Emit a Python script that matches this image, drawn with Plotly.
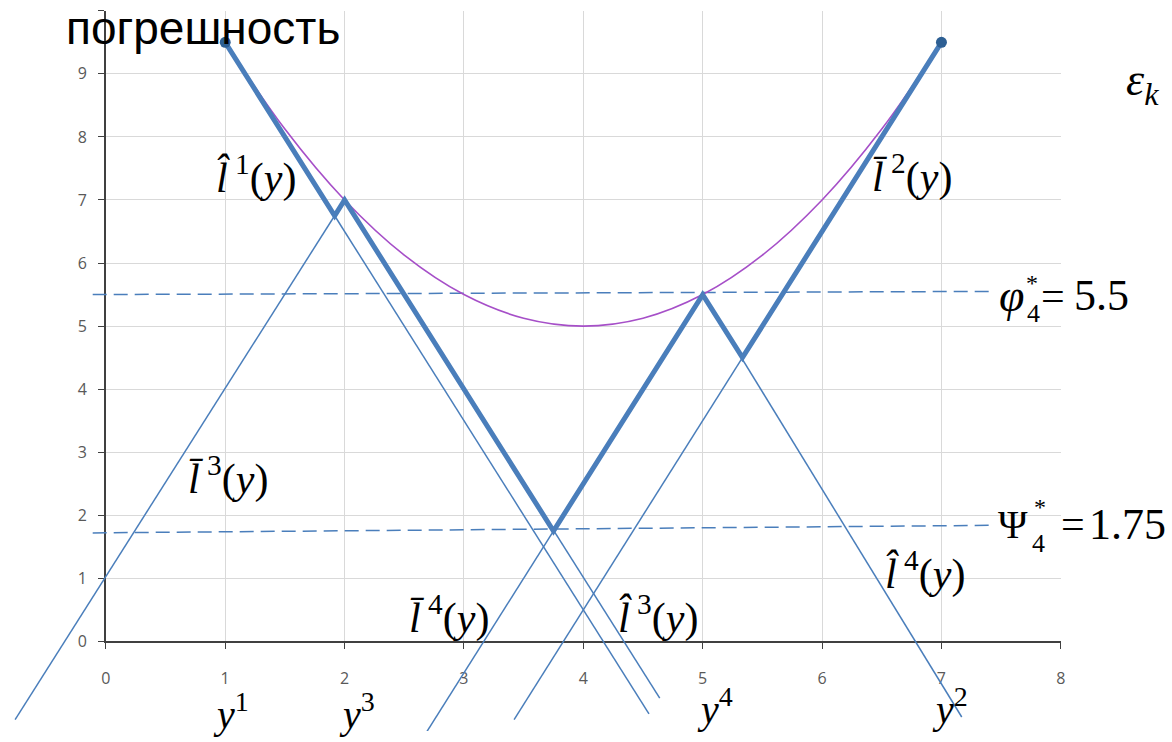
import plotly.graph_objects as go

# ---- data -------------------------------------------------------------
# upper envelope curve (error estimate), sampled points
curve_x = [1, 1.5, 2, 2.5, 3, 3.5, 4, 4.5, 5, 5.5, 6, 6.5, 7]
curve_y = [9.5, 8.125, 7, 6.125, 5.5, 5.125, 5, 5.125, 5.5, 6.125, 7, 8.125, 9.5]

# lower piecewise-linear minorant (bold polyline)
minorant_x = [1, 1.917, 2, 3.75, 5, 5.333, 7]
minorant_y = [9.5, 6.75, 7, 1.75, 5.5, 4.5, 9.5]

# end points of the auxiliary linear functions (start, end)
aux_lines = {
    "l3_bar": ([2.0, -0.76], [7.0, -1.24]),
    "l1_hat": ([1.917, 4.55], [6.75, -1.15]),
    "l3_hat": ([2.0, 4.64], [7.0, -0.90]),
    "l4_bar": ([5.0, 2.69], [5.5, -1.43]),
    "l2_bar": ([5.333, 3.42], [4.5, -1.24]),
    "l4_hat": ([5.0, 7.17], [5.5, -1.20]),
}

# record / bound levels (dashed)
phi_x, phi_y = [-0.11, 7.44], [5.5, 5.55]
psi_x, psi_y = [-0.11, 7.44], [1.72, 1.84]

# measured points
point_x = [1, 7]
point_y = [9.5, 9.5]

x_ticks = [0, 1, 2, 3, 4, 5, 6, 7, 8]
y_ticks = [0, 1, 2, 3, 4, 5, 6, 7, 8, 9, 10]

# ---- geometry -----------------------------------------------------------
W, H = 1172, 742
PX_X0, PX_PER_X = 101.7, 120.4   # pixel of x=0, pixels per unit
PX_Y0, PX_PER_Y = 651.0, 64.0    # pixel (from top) of y=0, pixels per unit

x_dom = [PX_X0 / W, (PX_X0 + 8 * PX_PER_X) / W]
y_dom = [(H - PX_Y0) / H, (H - PX_Y0 + 10 * PX_PER_Y) / H]
x2_rng = [-PX_X0 / PX_PER_X, (W - PX_X0) / PX_PER_X]
y2_rng = [-(H - PX_Y0) / PX_PER_Y, PX_Y0 / PX_PER_Y]

BLUE = "#4a7ebb"
THIN = 1.5
SERIF = "Liberation Serif"

fig = go.Figure()

# anchor trace so the gridded axes get drawn
fig.add_trace(go.Scatter(x=[0], y=[0], mode="markers", xaxis="x", yaxis="y",
                         marker=dict(opacity=0), hoverinfo="skip"))

# dashed levels
for xs, ys in [(phi_x, phi_y), (psi_x, psi_y)]:
    fig.add_trace(go.Scatter(x=xs, y=ys, mode="lines", xaxis="x2", yaxis="y2",
                             line=dict(color=BLUE, width=1.5, dash="14px,7px"),
                             hoverinfo="skip"))

# thin auxiliary lines
for name, (xs, ys) in aux_lines.items():
    fig.add_trace(go.Scatter(x=xs, y=ys, mode="lines", name=name, xaxis="x2", yaxis="y2",
                             line=dict(color=BLUE, width=THIN)))

# smooth error curve
fig.add_trace(go.Scatter(x=curve_x, y=curve_y, mode="lines", xaxis="x2", yaxis="y2",
                         line=dict(color="#a64fc8", width=1.6, shape="spline")))

# bold minorant
fig.add_trace(go.Scatter(x=minorant_x, y=minorant_y, mode="lines", xaxis="x2", yaxis="y2",
                         line=dict(color=BLUE, width=5)))

# measured points
fig.add_trace(go.Scatter(x=point_x, y=point_y, mode="markers", xaxis="x2", yaxis="y2",
                         marker=dict(color="#2d5f93", size=11)))

ann = []


def txt(px, py, text, size=42, xanchor="center", family=SERIF):
    """Place a text centred (vertically) at pixel position px, py."""
    ann.append(dict(x=px / W, y=1 - py / H, xref="paper", yref="paper", text=text,
                    showarrow=False, xanchor=xanchor, yanchor="middle",
                    font=dict(family=family, size=size, color="black")))


def lab(px, py, mark, sup):
    txt(px, py, f"<i>l{mark}</i><sup> {sup}</sup>(<i>y</i>)")


HAT, BAR = "\u0302", "\u0304"
lab(253, 178, HAT, 1)
lab(915, 177, BAR, 2)
lab(225, 483, BAR, 3)
lab(448, 624, BAR, 4)
lab(659, 624, HAT, 3)
lab(928, 580, HAT, 4)

# level captions
txt(1015, 300, "<i>φ</i>", size=46)
txt(1036, 287, "*", size=24)
txt(1037, 318, "4", size=26)
txt(1057, 300, "=", size=42)
txt(1076, 300, "5.5", size=44, xanchor="left")

txt(1017, 532, "Ψ", size=40)
txt(1044, 515, "*", size=24)
txt(1042, 552, "4", size=26)
txt(1077, 532, "=", size=42)
txt(1091, 532, "1.75", size=44, xanchor="left")

txt(1147, 84, "<i>ε</i><sub><i>k</i></sub>", size=46)

# argument points
for px, py, s in [(228, 722, "1"), (355, 722, "3"), (716, 717, "4"), (953, 717, "2")]:
    txt(px, py, f"<i>y</i><sup>{s}</sup>", size=40)

txt(60, 28, "погрешность", size=46, xanchor="left", family="Liberation Sans")

tick_font = dict(family="Open Sans", size=16, color="#595959")
fig.update_layout(
    autosize=True,
    margin=dict(l=0, r=0, t=0, b=0),
    paper_bgcolor="white", plot_bgcolor="rgba(0,0,0,0)",
    showlegend=False,
    annotations=ann,
    xaxis=dict(domain=x_dom, range=[0, 8], tickvals=x_ticks, showgrid=True,
               gridcolor="#d9d9d9", gridwidth=1.2, zeroline=False,
               showline=True, linecolor="#404040", linewidth=1.5,
               ticks="outside", ticklen=6, tickcolor="#404040",
               tickfont=tick_font, ticklabelstandoff=16, anchor="y"),
    yaxis=dict(domain=y_dom, range=[0, 10], tickvals=y_ticks, showgrid=True,
               gridcolor="#d9d9d9", gridwidth=1.2, zeroline=False,
               showline=True, linecolor="#404040", linewidth=1.5,
               ticks="outside", ticklen=6, tickcolor="#404040",
               tickfont=tick_font, ticklabelstandoff=8, anchor="x"),
    xaxis2=dict(domain=[0, 1], range=x2_rng, visible=False, anchor="y2"),
    yaxis2=dict(domain=[0, 1], range=y2_rng, visible=False, anchor="x2"),
)

# let the figure fill the whole window, without page margins
fit_page = (
    "var de=document.documentElement, b=document.body;"
    "de.style.margin='0'; de.style.overflow='hidden';"
    "b.style.margin='0'; b.style.overflow='hidden';"
    "var gd=document.getElementById('{plot_id}');"
    "gd.style.width='100vw'; gd.style.height='100vh';"
    "Plotly.Plots.resize(gd);"
)
fig.write_html("out.html", default_width="100vw", default_height="100vh",
               config={"responsive": True}, post_script=fit_page)
